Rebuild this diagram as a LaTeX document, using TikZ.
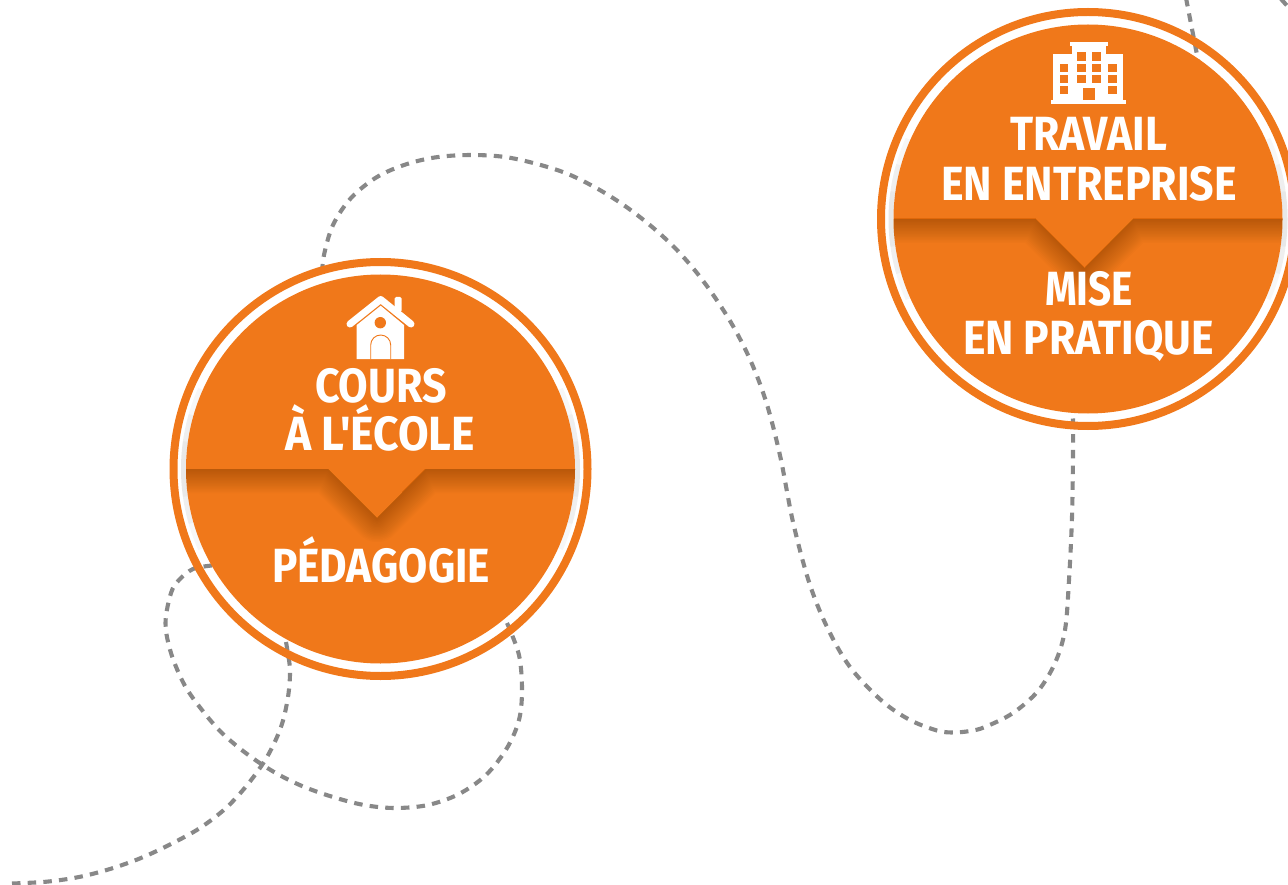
\documentclass[tikz,border=0pt]{standalone}
\usepackage{fontspec}
\newfontfamily\dinface{Fira Sans}
\usetikzlibrary{calc}
\definecolor{brandorange}{HTML}{F0781A}
\definecolor{shadowbrown}{HTML}{6E3606}
\definecolor{trailgray}{HTML}{888888}
\newsavebox{\linebox}
\newcommand{\fitline}[2]{\sbox{\linebox}{\dinface\fontsize{48}{48}\selectfont\bfseries #2}%
  \pgfmathsetmacro{\fitratio}{#1/(\wd\linebox/1pt)}\scalebox{\fitratio}[1]{\usebox{\linebox}}}
\tikzset{
  trail/.style={draw=trailgray,line width=4.1pt,dash pattern=on 8.5pt off 7.2pt},
  ring/.style={circle,draw=brandorange,line width=8pt,fill=none,minimum size=414pt,inner sep=0pt},
  disc/.style={circle,fill=brandorange,minimum size=389pt,inner sep=0pt},
  label/.style={anchor=base,text=white,inner sep=0pt,outer sep=0pt},
  iconwhite/.style={fill=white,draw=none},
  iconorange/.style={fill=brandorange,draw=none}
}
\newcommand{\ringglow}[2]{%
  \foreach \a in {8,16,24}{
    \draw[black,opacity=0.03,line width=5pt] (#1,#2) ++(-\a:197) arc (-\a:\a:197);
    \draw[black,opacity=0.03,line width=5pt] (#1,#2) ++(180-\a:197) arc (180-\a:180+\a:197);
  }}
\newcommand{\bandshadow}[2]{%
  \begin{scope}
    \clip (#1,#2) circle (194.5);
    \clip (#1-200,#2) -- (#1-52.5,#2) -- (#1-3.5,#2+49) -- (#1+45,#2) -- (#1+200,#2)
      -- (#1+200,#2+90) -- (#1-200,#2+90) -- cycle;
    \foreach \w in {3,6,...,48}{
      \draw[shadowbrown,opacity=0.029,line width=\w pt,line join=round]
        (#1-210,#2) -- (#1-52.5,#2) -- (#1-3.5,#2+49) -- (#1+45,#2) -- (#1+210,#2);
    }
  \end{scope}}
\begin{document}
\begin{tikzpicture}[x=1pt,y=-1pt]
\useasboundingbox (0,0) rectangle (1288,885);
% trail end points
\coordinate (trailStart) at (12,883.5);
\coordinate (schoolA) at (286,642);
\coordinate (schoolB) at (212,565.5);
\coordinate (schoolC) at (507,623);
\coordinate (schoolD) at (322,275);
\coordinate (workA) at (1073,418.5);
\coordinate (workB) at (1198,60);
\coordinate (topA) at (1186,-2);
\coordinate (topB) at (1281,-1);
\coordinate (topC) at (1290,9);
% trails
\draw[trail] plot[smooth,tension=0.55] coordinates {(trailStart) (46.5,881.7) (79,877) (110,869) (141,858) (171,844) (200,828) (226,808) (248,784) (267,757) (281,727) (288,697) (290,670) (287,648) (schoolA)};
\draw[trail] plot[smooth,tension=0.55] coordinates {(schoolB) (193,569) (179,580) (171,593) (165.5,623) (171,653) (184.5,685) (202,710) (222,733) (247,754) (274,772) (302,786) (333,797) (364,805) (395,808) (428,805) (459,794) (486,775) (507,748) (519,720) (522,690) (519,655) (schoolC)};
\draw[trail] plot[smooth,tension=0.55] coordinates {(workA) (1073,453) (1072,517) (1069,580) (1065,630) (1055,663) (1038,691) (1013,713) (985,727) (970,731) (953,732.5) (937,730.5) (910,720) (882,701) (850,667) (827,627) (809,582) (793,522) (781,460) (770,415) (760,384) (748,355) (733,326) (716,299) (697,273) (675,248) (651,226) (625,206) (598,189) (568,174) (537,164) (505,157) (472,155) (438,157) (407,164) (377,177) (351,198) (333,225) (324,255) (schoolD)};
\draw[trail] (topA) -- (workB);
\draw[trail] (topB) -- (topC);
% circles
\ringglow{380.5}{469}
\ringglow{1088}{219}
\node[ring] (school) at (380.5,469) {};
\node[disc] (schoolDisc) at (380.5,469) {};
\node[ring] (work) at (1088,219) {};
\node[disc] (workDisc) at (1088,219) {};
\bandshadow{380.5}{469}
\bandshadow{1088}{219}
% labels
\node[label] (l1) at (381,402) {\fitline{132}{COURS}};
\node[label] (l2) at (380,450) {\fitline{190}{À L'ÉCOLE}};
\node[label] (l3) at (381,582) {\fitline{218}{PÉDAGOGIE}};
\node[label] (l4) at (1088.5,150.5) {\fitline{157}{TRAVAIL}};
\node[label] (l5) at (1089,200.5) {\fitline{296}{EN ENTREPRISE}};
\node[label] (l6) at (1089,306) {\fitline{88}{MISE}};
\node[label] (l7) at (1088.5,354) {\fitline{251}{EN PRATIQUE}};
% house icon
\draw[white,line width=7pt,line cap=round,line join=round] (350,324) -- (380.7,299.5) -- (411,324);
\fill[iconwhite,rounded corners=1.5pt] (394.5,312) -- (394.5,297) -- (401.7,297) -- (401.7,312) -- cycle;
\fill[iconwhite] (356.7,325) -- (380.7,305.7) -- (404,325) -- (404,359) -- (356.7,359) -- cycle;
\fill[iconorange] (380.3,322.7) circle (5.7);
\draw[brandorange,line width=0.9pt] (370.7,359) -- (370.7,345) arc (180:360:10) -- (390.7,359);
% building icon
\fill[iconwhite] (1050.7,100) rectangle (1126,104.3);
\fill[iconwhite] (1070,41.7) rectangle (1107.7,46);
\fill[iconwhite] (1071.7,46) rectangle (1106,56);
\fill[iconwhite] (1053.3,54.5) rectangle (1123.3,101);
\foreach \xa in {1077.3,1092.3}{
  \fill[iconorange] (\xa,52.3) rectangle ++(8.4,8.4);
}
\foreach \ya in {64,75}{
  \foreach \xa in {1060,1077.3,1092.3,1108.3}{
    \fill[iconorange] (\xa,\ya) rectangle ++(8.4,8.4);
  }
}
\foreach \xa in {1060,1108.3}{
  \fill[iconorange] (\xa,86) rectangle ++(8.4,8.4);
}
\fill[iconorange] (1083.3,88.3) rectangle (1095,100);
\end{tikzpicture}
\end{document}
